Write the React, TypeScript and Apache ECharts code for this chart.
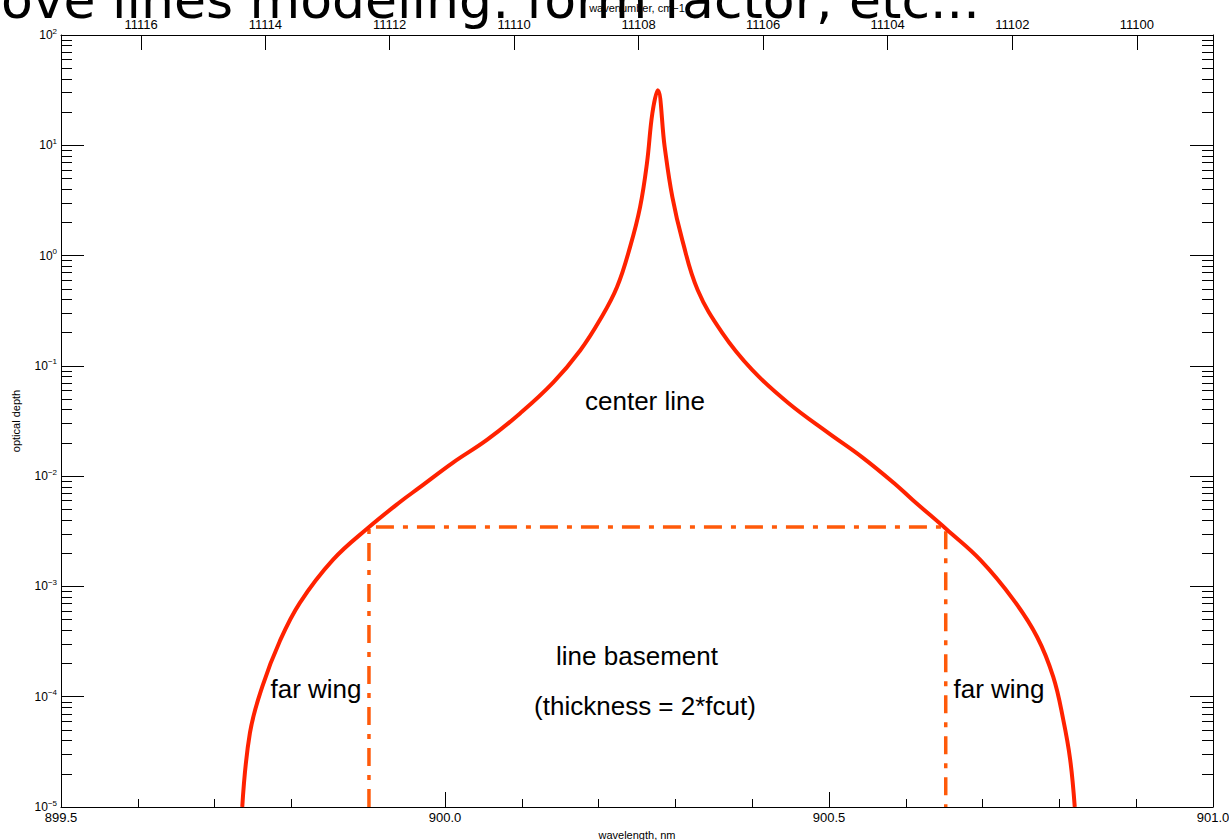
import { useEffect, useRef } from "react";
import * as echarts from "echarts";

// Line profile: wavelength (nm) and optical depth
const wavelengthNm = [
  899.736, 899.746, 899.762, 899.785, 899.811, 899.854, 899.9, 899.941, 899.967,
  900.01, 900.055, 900.098, 900.141, 900.176, 900.202, 900.224, 900.241, 900.254,
  900.263, 900.27, 900.277, 900.286, 900.296, 900.309, 900.329, 900.361, 900.4,
  900.447, 900.499, 900.543, 900.586, 900.609, 900.654, 900.697, 900.74, 900.771,
  900.792, 900.805, 900.814, 900.82,
];
const opticalDepth = [
  1.0e-5, 4.7e-5, 1.23e-4, 3.2e-4, 7.1e-4, 1.74e-3, 3.4e-3, 5.8e-3, 7.9e-3,
  0.0132, 0.0214, 0.0372, 0.0708, 0.138, 0.263, 0.519, 1.2, 2.75,
  6.9, 19.5, 31.6, 9.7, 3.4, 1.38, 0.488, 0.199, 0.0918,
  0.0461, 0.0247, 0.0149, 8.5e-3, 6.08e-3, 3.25e-3, 1.74e-3, 7.6e-4, 3.48e-4,
  1.51e-4, 6.2e-5, 2.7e-5, 1.0e-5,
];

// Line basement level and the wavelengths where the far wings begin
const basementDepth = 3.46e-3;
const wingEdgesNm = [899.901, 900.652];

// Axis ranges and tick values
const wavelengthRange = [899.5, 901.0];
const depthRange = [1e-5, 1e2];
const wavenumberTicks = [11116, 11114, 11112, 11110, 11108, 11106, 11104, 11102, 11100];
const decadeExponents = [-5, -4, -3, -2, -1, 0, 1];
const minorMultipliers = [2, 3, 4, 5, 6, 7, 8, 9];

const curveData = wavelengthNm.map((w, i) => [w, opticalDepth[i]]);
const basementData = [
  [wingEdgesNm[0], depthRange[0]],
  [wingEdgesNm[0], basementDepth],
  [wingEdgesNm[1], basementDepth],
  [wingEdgesNm[1], depthRange[0]],
];
const wavenumberPositions = wavenumberTicks.map((k) => 1e7 / k);
const minorLogTicks: number[] = [];
decadeExponents.forEach((e) => minorMultipliers.forEach((m) => minorLogTicks.push(e + Math.log10(m))));

const FONT = "Liberation Sans";
const SUP_MINUS = "\u2212";

function decadeLabel(v: number) {
  const e = Math.round(Math.log10(v));
  const txt = e < 0 ? SUP_MINUS + String(-e) : String(e);
  return `{b|10}{s|${txt}}`;
}

export default function App() {
  const ref = useRef<HTMLDivElement>(null);

  useEffect(() => {
    const chart = echarts.init(ref.current!, null, { renderer: "svg" });

    const tickLine = { color: "#000", width: 1 };
    const minorAxisBase = {
      type: "value" as const,
      min: Math.log10(depthRange[0]),
      max: Math.log10(depthRange[1]),
      axisLine: { show: false },
      axisLabel: { show: false },
      splitLine: { show: false },
      axisTick: { show: true, inside: true, length: 11, customValues: minorLogTicks, lineStyle: tickLine },
    };

    chart.setOption({
      animation: false,
      backgroundColor: "#fff",
      grid: { left: 61, right: 16, top: 35, bottom: 33, outerBoundsMode: "none", containLabel: false },
      xAxis: [
        {
          type: "value",
          position: "bottom",
          min: wavelengthRange[0],
          max: wavelengthRange[1],
          interval: 0.5,
          axisLine: { onZero: false, lineStyle: tickLine },
          axisTick: { inside: true, length: 15, lineStyle: tickLine },
          minorTick: { show: true, splitNumber: 5, length: 8, lineStyle: tickLine },
          splitLine: { show: false },
          minorSplitLine: { show: false },
          axisLabel: {
            formatter: (v: number) => v.toFixed(1),
            fontFamily: FONT,
            fontSize: 13,
            color: "#000",
            margin: 4,
            showMinLabel: true,
            showMaxLabel: true,
          },
          name: "wavelength, nm",
          nameLocation: "middle",
          nameGap: 22,
          nameTextStyle: { fontFamily: FONT, fontSize: 11, color: "#000" },
        },
        {
          type: "value",
          position: "top",
          min: wavelengthRange[0],
          max: wavelengthRange[1],
          axisLine: { onZero: false, lineStyle: tickLine },
          axisTick: { inside: true, length: 15, customValues: wavenumberPositions, lineStyle: tickLine },
          splitLine: { show: false },
          axisLabel: {
            customValues: wavenumberPositions,
            formatter: (v: number) => String(Math.round(1e7 / v)),
            fontFamily: FONT,
            fontSize: 13,
            color: "#000",
            margin: 4,
          },
          name: "wavenumber, cm\u22121",
          nameLocation: "middle",
          nameGap: 22,
          nameTextStyle: { fontFamily: FONT, fontSize: 11, color: "#000" },
        },
      ],
      yAxis: [
        {
          type: "log",
          logBase: 10,
          min: depthRange[0],
          max: depthRange[1],
          splitNumber: 7,
          position: "left",
          axisLine: { show: true, onZero: false, lineStyle: tickLine },
          axisTick: { show: true, inside: true, length: 23, lineStyle: tickLine },
          splitLine: { show: false },
          axisLabel: {
            formatter: decadeLabel,
            margin: 4,
            color: "#000",
            rich: {
              b: { fontFamily: FONT, fontSize: 12, color: "#000" },
              s: { fontFamily: FONT, fontSize: 8, color: "#000", padding: [0, 0, 8, 0] },
            },
          },
          name: "optical depth",
          nameLocation: "middle",
          nameGap: 40,
          nameTextStyle: { fontFamily: FONT, fontSize: 11, color: "#000" },
        },
        {
          type: "log",
          logBase: 10,
          min: depthRange[0],
          max: depthRange[1],
          splitNumber: 7,
          position: "right",
          axisLine: { show: true, onZero: false, lineStyle: tickLine },
          axisTick: { show: true, inside: true, length: 23, lineStyle: tickLine },
          axisLabel: { show: false },
          splitLine: { show: false },
        },
        { ...minorAxisBase, position: "left" },
        { ...minorAxisBase, position: "right" },
      ],
      series: [
        {
          type: "line",
          xAxisIndex: 0,
          yAxisIndex: 0,
          data: basementData,
          showSymbol: false,
          silent: true,
          lineStyle: { color: "#ff5a0a", width: 3.5, type: [18, 9, 5, 9] },
          z: 2,
        },
        {
          type: "line",
          xAxisIndex: 0,
          yAxisIndex: 0,
          data: curveData,
          showSymbol: false,
          silent: true,
          smooth: 0.4,
          lineStyle: { color: "#ff2200", width: 4 },
          z: 3,
        },
      ],
      graphic: [
        {
          type: "text",
          x: 1,
          y: 0,
          silent: true,
          style: {
            text: "ove lines modeling: form factor, etc...",
            fontFamily: "DejaVu Sans",
            fontSize: 52,
            fill: "#000",
            align: "left",
            verticalAlign: "middle",
          },
        },
        ...[
          { text: "center line", x: 645, y: 401 },
          { text: "line basement", x: 637, y: 656 },
          { text: "(thickness = 2*fcut)", x: 645, y: 706 },
          { text: "far wing", x: 316, y: 689 },
          { text: "far wing", x: 999, y: 689 },
        ].map((t) => ({
          type: "text",
          x: t.x,
          y: t.y,
          silent: true,
          z: 10,
          style: {
            text: t.text,
            fontFamily: FONT,
            fontSize: 26,
            fill: "#000",
            align: "center",
            verticalAlign: "middle",
          },
        })),
      ],
    });

    return () => chart.dispose();
  }, []);

  return (
    <div
      ref={ref}
      style={{ position: "fixed", left: 0, top: 0, width: 1229, height: 840, background: "#fff" }}
    />
  );
}
